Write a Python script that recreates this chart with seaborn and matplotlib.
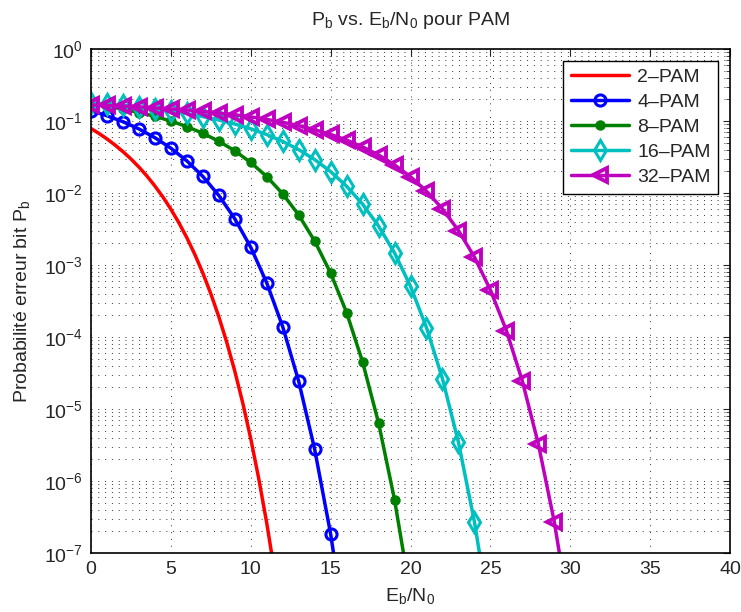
import numpy as np
import pandas as pd
import matplotlib
matplotlib.use('Agg')
import matplotlib.pyplot as plt
import seaborn as sns
from matplotlib.ticker import LogLocator, MultipleLocator

# Données (Pb en fonction de Eb/N0, dB)
ebn0_2pam = [0, 0.5, 1, 1.5, 2, 2.5, 3, 3.5, 4, 4.5, 5, 5.5, 6, 6.5, 7, 7.5,
             8, 8.5, 9, 9.5, 10, 10.5, 11, 11.5, 12]
pb_2pam = [7.86e-2, 6.71e-2, 5.63e-2, 4.64e-2, 3.75e-2, 2.97e-2, 2.29e-2, 1.72e-2,
           1.25e-2, 8.80e-3, 5.95e-3, 3.86e-3, 2.39e-3, 1.40e-3, 7.73e-4, 3.99e-4,
           1.91e-4, 8.4e-5, 3.36e-5, 1.21e-5, 3.87e-6, 1.08e-6, 2.61e-7, 5.3e-8, 9.0e-9]

ebn0_4pam = list(range(0, 17))
pb_4pam = [0.139, 0.118, 9.77e-2, 7.75e-2, 5.86e-2, 4.19e-2, 2.79e-2, 1.70e-2,
           9.24e-3, 4.39e-3, 1.76e-3, 5.64e-4, 1.39e-4, 2.43e-5, 2.76e-6, 1.84e-7, 6.2e-9]

ebn0_8pam = list(range(0, 21))
pb_8pam = [0.173, 0.160, 0.146, 0.131, 0.116, 9.97e-2, 8.35e-2, 6.75e-2, 5.23e-2,
           3.85e-2, 2.65e-2, 1.69e-2, 9.73e-3, 4.95e-3, 2.15e-3, 7.72e-4, 2.18e-4,
           4.5e-5, 6.4e-6, 5.5e-7, 2.6e-8]

ebn0_16pam = list(range(0, 26))
pb_16pam = [0.178, 0.171, 0.164, 0.156, 0.147, 0.137, 0.127, 0.115, 0.103, 9.08e-2,
            7.78e-2, 6.48e-2, 5.20e-2, 4.00e-2, 2.91e-2, 1.98e-2, 1.24e-2, 7.00e-3,
            3.47e-3, 1.47e-3, 5.05e-4, 1.35e-4, 2.64e-5, 3.45e-6, 2.72e-7, 1.15e-8]

ebn0_32pam = list(range(0, 31))
pb_32pam = [0.167, 0.164, 0.161, 0.157, 0.152, 0.147, 0.142, 0.136, 0.129, 0.122,
            0.114, 0.105, 9.60e-2, 8.61e-2, 7.57e-2, 6.50e-2, 5.43e-2, 4.37e-2,
            3.37e-2, 2.46e-2, 1.68e-2, 1.06e-2, 6.02e-3, 3.01e-3, 1.29e-3, 4.50e-4,
            1.23e-4, 2.44e-5, 3.28e-6, 2.70e-7, 1.19e-8]

series = [
    ('2–PAM', ebn0_2pam, pb_2pam, dict(color=(1, 0, 0), marker=None)),
    ('4–PAM', ebn0_4pam, pb_4pam, dict(color=(0, 0, 1), marker='o', markersize=8,
                                      markerfacecolor='none', markeredgewidth=2.2)),
    ('8–PAM', ebn0_8pam, pb_8pam, dict(color=(0, 0.5, 0), marker='o', markersize=6.5,
                                      markeredgewidth=1)),
    ('16–PAM', ebn0_16pam, pb_16pam, dict(color=(0, 0.75, 0.75), marker='d', markersize=10,
                                         markerfacecolor='none', markeredgewidth=2.2)),
    ('32–PAM', ebn0_32pam, pb_32pam, dict(color=(0.75, 0, 0.75), marker='<', markersize=10,
                                         markerfacecolor='none', markeredgewidth=2.8)),
]

sns.set_style('white')
plt.rcParams['font.family'] = ['Liberation Sans', 'DejaVu Sans']
plt.rcParams['mathtext.fontset'] = 'custom'
plt.rcParams['mathtext.rm'] = 'Liberation Sans'

fig = plt.figure(figsize=(7.41, 6.12), dpi=100)
ax = fig.add_axes([0.1228, 0.0964, 0.8624, 0.8236])

for name, x, y, style in series:
    df = pd.DataFrame({'x': x, 'y': y})
    sns.lineplot(data=df, x='x', y='y', ax=ax, label=name, linewidth=2.5,
                 markeredgecolor=style['color'], **style)

ax.set_yscale('log')
ax.set_xlim(0, 40)
ax.set_ylim(1e-7, 1)
ax.xaxis.set_major_locator(MultipleLocator(5))
ax.yaxis.set_major_locator(LogLocator(base=10, numticks=20))
ax.yaxis.set_minor_locator(LogLocator(base=10, subs=np.arange(2, 10), numticks=20))

grid_style = dict(color='0.2', linestyle=(0, (1, 6)), linewidth=0.7)
ax.grid(True, which='major', axis='both', **grid_style)
ax.grid(True, which='minor', axis='y', **grid_style)
ax.set_axisbelow(True)

ax.tick_params(which='both', direction='in', top=True, right=True, labelsize=14, pad=6)
ax.tick_params(which='major', length=5, width=0.8)
ax.tick_params(which='minor', length=3, width=0.6)
for s in ax.spines.values():
    s.set_linewidth(1.2)
    s.set_color('black')

ax.set_title(r'P$_\mathregular{b}$ vs. E$_\mathregular{b}$/N$_\mathregular{0}$ pour PAM',
             fontsize=14, pad=17)
ax.set_xlabel(r'E$_\mathregular{b}$/N$_\mathregular{0}$', fontsize=14, labelpad=6)
ax.set_ylabel(r'Probabilité erreur bit P$_\mathregular{b}$', fontsize=14, labelpad=8)

leg = ax.legend(loc='upper right', fontsize=14, handlelength=3.0, frameon=True,
                fancybox=False, borderpad=0.4, labelspacing=0.38, handletextpad=0.4,
                borderaxespad=0.6)
leg.get_frame().set_edgecolor('black')
leg.get_frame().set_linewidth(1.0)
leg.get_frame().set_alpha(1)

fig.savefig('out.png', dpi=100)
